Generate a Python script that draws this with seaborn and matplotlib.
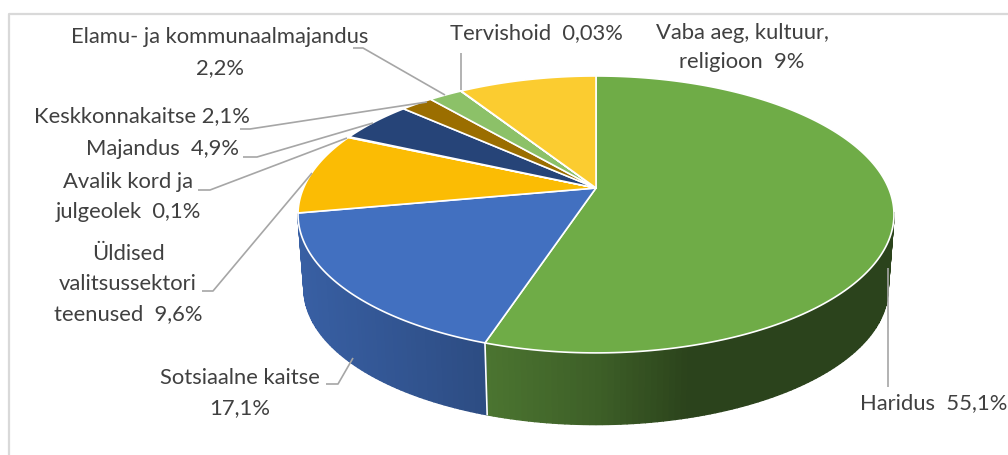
import numpy as np
import matplotlib
matplotlib.use("Agg")
import matplotlib.pyplot as plt
import seaborn as sns

# data, clockwise from 12 o'clock
categories = ["Haridus", "Sotsiaalne kaitse", "Üldised valitsussektori teenused", "Avalik kord ja julgeolek",
              "Majandus", "Keskkonnakaitse", "Elamu- ja kommunaalmajandus", "Tervishoid",
              "Vaba aeg, kultuur, religioon"]
values = [55.1, 17.1, 9.6, 0.1, 4.9, 2.1, 2.2, 0.03, 9]
slice_colors = ["#6FAC47", "#4270C0", "#FBBC04", "#A5A5A5", "#264478", "#9B6E00", "#8CC168", "#997300", "#FBCC30"]

sns.set_theme(style="white")
plt.rcParams["font.family"] = ["Lato", "DejaVu Sans"]
palette = sns.color_palette(slice_colors)

fig, ax = plt.subplots(figsize=(10.08, 4.55), dpi=100)
fig.subplots_adjust(0, 0, 1, 1)
wedges, _ = ax.pie(values, startangle=90, counterclock=False, colors=palette, frame=True)
ax.set_aspect("auto")
ax.set_xlim(0, 1008)
ax.set_ylim(455, 0)
ax.axis("off")


# perspective view of the unit circle, one for the top face and one for the bottom
def project(deg, k=1.0, y0=188.0):
    t = np.radians(deg)
    u, v = np.cos(t), np.sin(t)
    w = 1 + 0.191 * v
    return 596 + k * 292.5 * u / w, y0 - k * 133.4 * v / w


def wall_shade(x):
    return np.interp(x, [300, 486, 600, 690, 900], [0.85, 0.68, 0.55, 0.39, 0.39])


# side wall first, only the two front slices show one
for w, col in zip(wedges[:2], palette):
    th1, th2 = sorted((w.theta1, w.theta2))
    angles = np.clip(np.arange(np.floor(th1), np.ceil(th2) + 1, 1.0), th1, th2)
    for a, b in zip(angles[:-1], angles[1:]):
        if np.sin(np.radians(a)) > -0.17 or np.sin(np.radians(b)) > -0.17:
            continue
        xt, yt = project(np.array([a, b]))
        xb, yb = project(np.array([b, a]), k=0.98, y0=263)
        c = np.array(col) * wall_shade(xt.mean())
        ax.fill(np.r_[xt, xb], np.r_[yt, yb], color=c, lw=1.0, zorder=1)

# white seam on the wall where the two front slices meet
seam = wedges[0].theta1
x1, y1 = project(seam)
x2, y2 = project(seam, k=0.98, y0=263)
ax.plot([x1, x2], [y1, y2], color="white", lw=1.2, zorder=2)

# top face, angles taken from the pie wedges
for w, col in zip(wedges, palette):
    arc = np.linspace(w.theta1, w.theta2, max(int(abs(w.theta2 - w.theta1)), 2) + 1)
    x, y = project(arc)
    ax.fill(np.r_[596, x], np.r_[188, y], facecolor=col, edgecolor="white", lw=1.2, joinstyle="round", zorder=3)
    w.remove()

# leader lines
leader_color = "#A6A6A6"
leaders = [
    [(353, 48), (363, 48), (445, 95)],
    [(461, 53), (461, 90)],
    [(240, 129), (250, 129), (427, 102)],
    [(243, 157), (257, 157), (373, 123)],
    [(198, 190), (210, 190), (347, 138)],
    [(202, 291), (213, 291), (312, 173)],
    [(326, 384), (338, 384), (353, 358)],
    [(888, 268), (888, 387)],
]
for pts in leaders:
    xs, ys = zip(*pts)
    ax.plot(xs, ys, color=leader_color, lw=1.2, zorder=4, solid_capstyle="butt")

# labels, one entry per line of text
labels = [
    ("Elamu- ja kommunaalmajandus", 220, 37),
    ("2,2%", 220, 68),
    ("Tervishoid  0,03%", 536, 33),
    ("Vaba aeg, kultuur,", 742, 33),
    ("religioon  9%", 742, 62),
    ("Keskkonnakaitse 2,1%", 142, 116),
    ("Majandus  4,9%", 162, 149),
    ("Avalik kord ja", 128, 182),
    ("julgeolek  0,1%", 128, 212),
    ("Üldised", 128, 254),
    ("valitsussektori", 128, 284),
    ("teenused  9,6%", 128, 314),
    ("Sotsiaalne kaitse", 240, 378),
    ("17,1%", 240, 408),
    ("Haridus  55,1%", 934, 403),
]
for txt, x, y in labels:
    ax.text(x, y, txt, ha="center", va="center", fontsize=15.8, color="#404040", zorder=5)

# chart frame, cut off at the right and bottom
ax.plot([8.5, 8.5, 1008], [455, 14, 14], color="#D9D9D9", lw=1.6, zorder=0, clip_on=True)

fig.savefig("out.png", dpi=100)
